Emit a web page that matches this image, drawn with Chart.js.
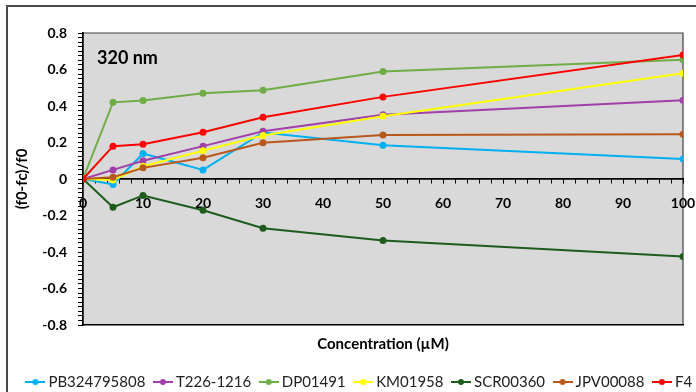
<!DOCTYPE html>
<html>
<head>
<meta charset="utf-8">
<script src="https://cdn.jsdelivr.net/npm/chart.js@4.4.1/dist/chart.umd.min.js"></script>
<style>
  html, body { margin: 0; padding: 0; background: #fff; overflow: hidden; width: 696px; height: 392px; }
  #frame { position: absolute; left: 6px; top: 5px; border: 2px solid #4a4a4a; border-right: none; border-bottom: none; width: 706px; height: 395px; background: #fff; }
  #wrap { position: absolute; left: 0; top: 0; width: 706px; height: 395px; }
</style>
</head>
<body>
<div id="frame"><div id="wrap"><canvas id="c"></canvas></div></div>
<script>
// ---- data ----
const concentrations = [0, 5, 10, 20, 30, 50, 100];
const seriesNames = ['PB324795808', 'T226-1216', 'DP01491', 'KM01958', 'SCR00360', 'JPV00088', 'F4'];
const PB324795808 = [0, -0.03, 0.14, 0.05, 0.255, 0.185, 0.11];
const T226_1216   = [0, 0.05, 0.10, 0.18, 0.262, 0.352, 0.432];
const DP01491     = [0, 0.42, 0.43, 0.47, 0.486, 0.589, 0.653];
const KM01958     = [0, -0.005, 0.07, 0.155, 0.238, 0.344, 0.579];
const SCR00360    = [0, -0.155, -0.09, -0.171, -0.27, -0.337, -0.425];
const JPV00088    = [0, 0.01, 0.061, 0.116, 0.199, 0.241, 0.245];
const F4          = [0, 0.18, 0.19, 0.256, 0.338, 0.45, 0.68];
const seriesValues = [PB324795808, T226_1216, DP01491, KM01958, SCR00360, JPV00088, F4];
const seriesColors = ['#00B0F0', '#A040A8', '#70AD47', '#FFFF00', '#1E5C1E', '#B8581C', '#FF0000'];
const yTickValues = [-0.8, -0.6, -0.4, -0.2, 0, 0.2, 0.4, 0.6, 0.8];
const xTickStep = 10;
const annotationText = '320 nm';
const xTitle = 'Concentration (\u00B5M)';
const yTitle = '(f0-fc)/f0';

const FONT = 'Lato';

function legendIcon(color) {
  const c = document.createElement('canvas');
  c.width = 20; c.height = 8;
  const g = c.getContext('2d');
  g.strokeStyle = color; g.lineWidth = 2;
  g.beginPath(); g.moveTo(0, 4); g.lineTo(20, 4); g.stroke();
  g.fillStyle = color;
  g.beginPath(); g.arc(10, 4, 3, 0, Math.PI * 2); g.fill();
  return c;
}
const icons = seriesColors.map(legendIcon);

const datasets = seriesNames.map((name, i) => ({
  label: name,
  data: concentrations.map((x, j) => ({x: x, y: seriesValues[i][j]})),
  borderColor: seriesColors[i],
  backgroundColor: seriesColors[i],
  pointBackgroundColor: seriesColors[i],
  pointBorderWidth: 0,
  pointRadius: 3.5,
  pointHoverRadius: 3.5,
  borderWidth: 2,
  tension: 0,
  order: seriesNames.length - i
}));

const plotDecor = {
  id: 'plotDecor',
  beforeDraw(chart) {
    const {ctx, chartArea: a} = chart;
    ctx.save();
    ctx.fillStyle = '#D9D9D9';
    ctx.fillRect(a.left, a.top, a.right - a.left, a.bottom - a.top);
    ctx.strokeStyle = '#404040';
    ctx.lineWidth = 1.2;
    ctx.beginPath();
    ctx.moveTo(a.left, a.top); ctx.lineTo(a.right, a.top); ctx.lineTo(a.right, a.bottom);
    ctx.stroke();
    ctx.restore();
  },
  afterDraw(chart) {
    const {ctx, chartArea: a} = chart;
    ctx.save();
    ctx.font = 'bold 18px ' + FONT;
    ctx.fillStyle = '#000';
    ctx.textBaseline = 'middle';
    ctx.fillText(annotationText, a.left + 14, a.top + 25);
    ctx.restore();
  }
};

const tickFont = {family: FONT, weight: 'bold', size: 14};

new Chart(document.getElementById('c'), {
  type: 'line',
  data: {datasets},
  plugins: [plotDecor],
  options: {
    responsive: true,
    maintainAspectRatio: false,
    animation: false,
    layout: {padding: {left: 0, right: 0, top: 0, bottom: 2.5}},
    plugins: {
      tooltip: {enabled: false},
      legend: {
        position: 'bottom',
        align: 'center',
        labels: {
          usePointStyle: true,
          pointStyleWidth: 11,
          padding: 12,
          color: '#222',
          font: {family: FONT, size: 15},
          sort: (a, b) => a.datasetIndex - b.datasetIndex,
          generateLabels(chart) {
            const items = Chart.defaults.plugins.legend.labels.generateLabels(chart);
            items.forEach(it => { it.pointStyle = icons[it.datasetIndex]; });
            return items;
          }
        }
      }
    },
    scales: {
      x: {
        type: 'linear', min: 0, max: 100,
        position: {y: 0},
        ticks: {stepSize: xTickStep, font: tickFont, color: '#000', padding: 12, maxRotation: 0, autoSkip: false},
        grid: {drawOnChartArea: false, tickLength: 4, color: '#000', tickWidth: 1},
        border: {color: '#000', width: 1.5}
      },
      xMinor: {
        type: 'linear', min: 0, max: 100,
        position: {y: 0},
        ticks: {stepSize: 2, display: false},
        grid: {drawOnChartArea: false, tickLength: 4, color: '#000', tickWidth: 1},
        border: {color: '#000', width: 1.5}
      },
      x2: {
        type: 'linear', min: 0, max: 100,
        position: 'bottom',
        ticks: {display: false},
        grid: {display: false, drawTicks: false},
        border: {display: true, color: '#000', width: 1.5},
        title: {display: true, text: xTitle, color: '#000', font: {family: FONT, weight: 'bold', size: 15}, padding: {top: 0, bottom: 9.5}},
        afterFit(s) { s.height = 37.5; }
      },
      xTop: {
        type: 'linear', position: 'top',
        ticks: {display: false},
        grid: {display: false, drawTicks: false},
        border: {display: false},
        afterFit(s) { s.height = 26; }
      },
      y: {
        type: 'linear', min: -0.8, max: 0.8,
        position: 'left',
        afterBuildTicks(s) { s.ticks = yTickValues.map(v => ({value: v})); },
        ticks: {
          font: tickFont, color: '#000', padding: 11,
          callback: v => (Math.abs(v) < 1e-9 ? '0' : Number(v).toFixed(1))
        },
        grid: {drawOnChartArea: false, tickLength: 5, color: '#000', tickWidth: 1},
        border: {color: '#000', width: 1.5},
        title: {display: true, text: yTitle, color: '#000', font: {family: FONT, weight: 'bold', size: 15}, padding: {top: 5, bottom: 0}},
        afterFit(s) { s.width = 75; }
      },
      yMinor: {
        type: 'linear', min: -0.8, max: 0.8,
        position: {x: 0},
        ticks: {stepSize: 0.025, display: false},
        grid: {drawOnChartArea: false, tickLength: 4, color: '#000', tickWidth: 1},
        border: {color: '#000', width: 1.5}
      },
      yRight: {
        type: 'linear', position: 'right',
        ticks: {display: false},
        grid: {display: false, drawTicks: false},
        border: {display: false},
        afterFit(s) { s.width = 31; }
      }
    }
  }
});
</script>
</body>
</html>
